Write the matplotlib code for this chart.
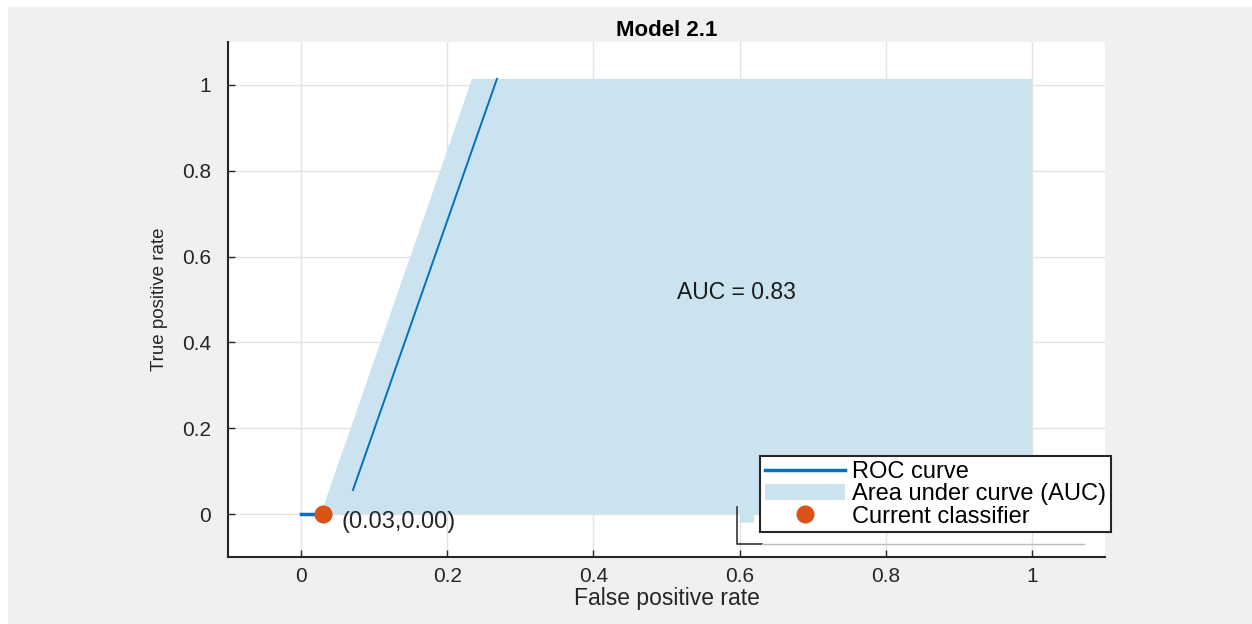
import matplotlib
matplotlib.use('Agg')
import matplotlib.pyplot as plt
from matplotlib.patches import Rectangle, Polygon
from matplotlib.lines import Line2D

plt.rcParams['font.family'] = ['Liberation Sans', 'DejaVu Sans']

# values
tick_vals = [0, 0.2, 0.4, 0.6, 0.8, 1]
tick_text = ['0', '0.2', '0.4', '0.6', '0.8', '1']

roc_x1 = [0, 0.03]
roc_y1 = [0, 0]
roc_x2 = [0.071, 0.268]
roc_y2 = [0.056, 1.014]

area_x = [0.027, 0.234, 1.0, 1.0, 0.62, 0.62, 0.60, 0.60, 0.027]
area_y = [0.0, 1.014, 1.014, 0.0, 0.0, -0.02, -0.02, 0.0, 0.0]

clf_x, clf_y = 0.03, 0.00
auc = 0.83

fig = plt.figure(figsize=(12.52, 6.24), dpi=100)
fig.patch.set_facecolor('#f0f0f0')
# white strip on top and left of the screenshot
fig.add_artist(Rectangle((0, 0.988), 1, 0.012, transform=fig.transFigure,
                         facecolor='white', edgecolor='none', zorder=-5))
fig.add_artist(Rectangle((0, 0), 0.0065, 1, transform=fig.transFigure,
                         facecolor='white', edgecolor='none', zorder=-5))

ax = fig.add_axes([0.1821, 0.1074, 0.7005, 0.8253])
ax.set_facecolor('white')
ax.set_xlim(-0.1, 1.1)
ax.set_ylim(-0.1, 1.1)

ax.add_patch(Polygon(list(zip(area_x, area_y)), closed=True,
                     facecolor='#cbe2ef', edgecolor='none', zorder=2))
ax.plot(roc_x1, roc_y1, color='#0072BD', lw=2.5, zorder=3)
ax.plot(roc_x2, roc_y2, color='#0072BD', lw=1.4, zorder=3)
ax.plot([clf_x], [clf_y], 'o', color='#D95319', ms=12, zorder=4)
ax.annotate('(%.2f,%.2f)' % (clf_x, clf_y), (clf_x, clf_y), xytext=(13, -6),
            textcoords='offset points', ha='left', va='center',
            fontsize=17, color='#262626', zorder=5)
ax.text(0.596, 0.517, 'AUC = %.2f' % auc, ha='center', va='center',
        fontsize=16.5, color='#1a1a1a', zorder=5)

# leftover outline of an older legend box
ax.plot([0.596, 0.596, 0.63], [0.016, -0.07, -0.07], color='#333333', lw=1.2, zorder=3)
ax.plot([0.63, 1.071], [-0.07, -0.07], color='#bbbbbb', lw=1.0, zorder=3)

ax.set_xticks(tick_vals)
ax.set_xticklabels(tick_text)
ax.set_yticks(tick_vals)
ax.set_yticklabels(tick_text)
ax.grid(True, color='#e3e3e3', lw=1.0, zorder=1)
ax.set_axisbelow(True)
ax.tick_params(direction='in', length=5, width=1, color='#262626',
               labelsize=15, labelcolor='#262626')
ax.tick_params(axis='x', pad=7)
ax.tick_params(axis='y', pad=12)
for s in ['top', 'right']:
    ax.spines[s].set_visible(False)
for s in ['left', 'bottom']:
    ax.spines[s].set_color('#262626')
    ax.spines[s].set_linewidth(1.5)

ax.set_xlabel('False positive rate', fontsize=16.5, color='#262626', labelpad=1)
ax.set_ylabel('True positive rate', fontsize=13.5, color='#262626', labelpad=10)
ax.set_title('Model 2.1', fontsize=16, fontweight='bold', pad=4)

handles = [Line2D([], [], color='#0072BD', lw=2.5),
           Rectangle((0, 0), 1, 1, facecolor='#cbe2ef', edgecolor='none'),
           Line2D([], [], marker='o', color='#D95319', ls='none', ms=12)]
leg = ax.legend(handles, ['ROC curve', 'Area under curve (AUC)', 'Current classifier'],
                loc='upper left', bbox_to_anchor=(0.6066, 0.196), fontsize=17,
                frameon=True, fancybox=False, framealpha=1, edgecolor='#262626',
                handlelength=3.4, handletextpad=0.3, borderpad=0.2,
                labelspacing=0.02, borderaxespad=0)
leg.get_frame().set_linewidth(1.5)
leg.set_zorder(10)

fig.savefig('out.png', dpi=100, facecolor=fig.get_facecolor())
